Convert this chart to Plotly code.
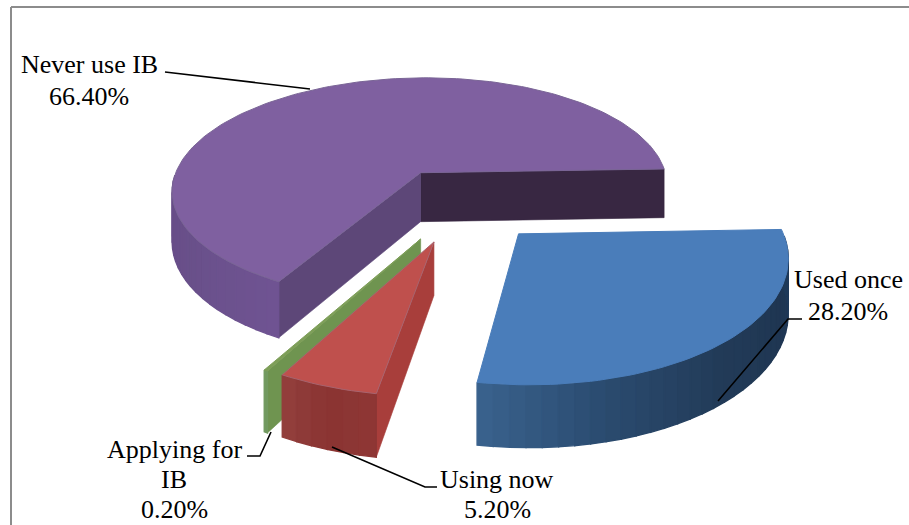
import math
import plotly.graph_objects as go

# Survey shares, in percent, in drawing order around the pie
categories = [["Never use IB"], ["Applying for", "IB"], ["Using now"], ["Used once"]]
shares = [66.4, 0.2, 5.2, 28.2]

# Face colours for each slice
top_colors = ["#7F60A0", "#7D9E58", "#BF504D", "#4A7DBA"]
edge_colors = ["#7A6596", "#7D9E58", "#A8636E", "#4A7DBA"]
start_cut_colors = ["#382742", "#6F9450", "#A83E3B", "#1F3550"]
end_cut_colors = ["#5D4778", "#6F9450", "#A83E3B", "#1F3550"]
# Outer wall shading, listed from the clockwise end of the visible wall to the other end
wall_stops = [
    ["#6F5392", "#69508A", "#664A86"],
    ["#76A070", "#6F9450"],
    ["#8F3735", "#8A3432", "#93403D"],
    ["#1E3A5A", "#1F3652", "#223B58", "#2A4A6E", "#3A638E"],
]

# Label placement: horizontal centre and the baseline of each text line, in pixels
label_x = [89, 174, 497, 848]
label_baselines = [[73, 105], [458, 488, 518], [488, 518], [288, 320]]
leader_paths = [
    [(165, 72), (310, 89)],
    [(247, 456), (260, 456), (271, 432)],
    [(437, 487), (425, 487), (332, 447)],
    [(802, 319), (788, 319), (718, 401)],
]
FONT_SIZE = 26

# Projection of the tilted pie on to the page
CX, CY = 462, 204
RX, RY = 255, 118
DEPTH = 6.6
THICKNESS = 51
EXPLODE = 0.324
ROTATION = 2.0
STRIP_DEGREES = 3.0


def project(x, y, z=0.0):
    s = DEPTH / (DEPTH + y)
    return CX + RX * x * s, CY - RY * y * s + THICKNESS * z * s


def hex_rgb(c):
    return tuple(int(c[i:i + 2], 16) for i in (1, 3, 5))


def shade(stops, t):
    t = min(max(t, 0.0), 1.0) * (len(stops) - 1)
    i = min(int(t), len(stops) - 2)
    f = t - i
    a, b = hex_rgb(stops[i]), hex_rgb(stops[i + 1])
    return "rgb(%d,%d,%d)" % tuple(round(a[k] + (b[k] - a[k]) * f) for k in range(3))


fig = go.Figure()


def polygon(points, fill, line=None, width=0.6):
    xs = [p[0] for p in points] + [points[0][0]]
    ys = [p[1] for p in points] + [points[0][1]]
    fig.add_trace(go.Scatter(
        x=xs, y=ys, mode="lines", fill="toself", fillcolor=fill,
        line=dict(color=line or fill, width=width),
        hoverinfo="skip", showlegend=False,
    ))


angle = ROTATION
for i, share in enumerate(shares):
    a0, a1 = angle, angle + share * 3.6
    angle = a1
    mid = math.radians((a0 + a1) / 2)
    ox, oy = EXPLODE * math.cos(mid), EXPLODE * math.sin(mid)

    def rim(a, z=0.0):
        r = math.radians(a)
        return project(ox + math.cos(r), oy + math.sin(r), z)

    apex_top, apex_bottom = project(ox, oy), project(ox, oy, 1.0)

    # Cut faces that turn towards the viewer
    if math.sin(math.radians(a0 - 90)) < 0:
        polygon([apex_top, rim(a0), rim(a0, 1.0), apex_bottom], start_cut_colors[i])
    if math.sin(math.radians(a1 + 90)) < 0:
        polygon([apex_top, rim(a1), rim(a1, 1.0), apex_bottom], end_cut_colors[i])

    # Outer wall, built from narrow shaded strips on the near half of the rim
    steps = max(1, round((a1 - a0) / STRIP_DEGREES))
    wall_a = [a0 + (a1 - a0) * k / steps for k in range(steps + 1)]
    visible = [a for a in wall_a if math.sin(math.radians(a)) < 0.02]
    for k in range(len(visible) - 1):
        u, v = visible[k], visible[k + 1]
        t = (k + 0.5) / max(1, len(visible) - 1)
        polygon([rim(u), rim(v), rim(v, 1.0), rim(u, 1.0)],
                shade(wall_stops[i][::-1], t), width=1.4)

    # Top face
    top_steps = max(2, round((a1 - a0) / 1.5))
    arc = [rim(a0 + (a1 - a0) * k / top_steps) for k in range(top_steps + 1)]
    polygon([apex_top] + arc, top_colors[i], line=edge_colors[i], width=1)

# Chart frame: only the top and left rules are drawn
shapes = [
    dict(type="line", x0=11, x1=909, y0=7, y1=7, line=dict(color="#8C8C8C", width=2), layer="above"),
    dict(type="line", x0=11, x1=11, y0=7, y1=525, line=dict(color="#8C8C8C", width=2), layer="above"),
]
for path in leader_paths:
    d = "M " + " L ".join(f"{x},{y}" for x, y in path)
    shapes.append(dict(type="path", path=d, line=dict(color="#000000", width=1.6), layer="above"))

# Each text line is placed on its own so the line spacing can be set exactly
annotations = []
for name_lines, share, x, baselines in zip(categories, shares, label_x, label_baselines):
    for text, baseline in zip(name_lines + [f"{share:.2f}%"], baselines):
        annotations.append(dict(
            x=x, y=baseline - 0.3375 * FONT_SIZE, xref="x", yref="y",
            showarrow=False, align="center", yanchor="middle", text=text,
            font=dict(family="Liberation Serif", size=FONT_SIZE, color="#000000"),
        ))

fig.update_layout(
    width=909, height=525, margin=dict(l=0, r=0, t=0, b=0),
    paper_bgcolor="white", plot_bgcolor="white",
    xaxis=dict(range=[0, 909], visible=False, fixedrange=True),
    yaxis=dict(range=[525, 0], visible=False, fixedrange=True),
    shapes=shapes, annotations=annotations, showlegend=False,
)
fig.write_html("out.html", config={"displayModeBar": False})
